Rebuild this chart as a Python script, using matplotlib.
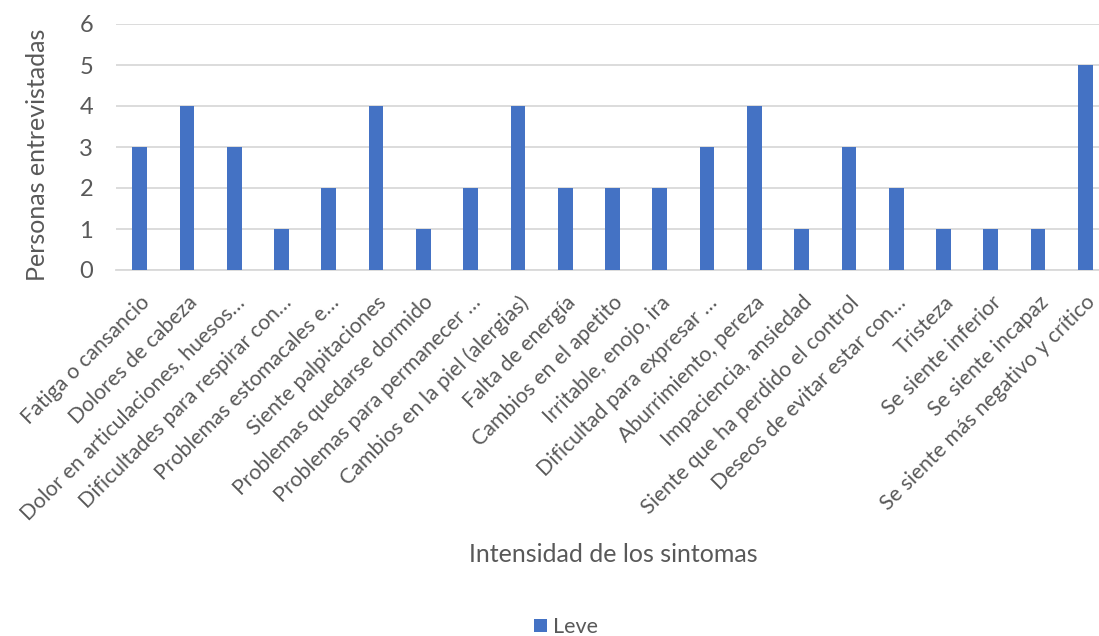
import matplotlib
matplotlib.use("Agg")
import matplotlib.pyplot as plt
from matplotlib.patches import Patch

categorias = [
    "Fatiga o cansancio",
    "Dolores de cabeza",
    "Dolor en articulaciones, huesos…",
    "Dificultades para respirar con…",
    "Problemas estomacales e…",
    "Siente palpitaciones",
    "Problemas quedarse dormido",
    "Problemas para permanecer …",
    "Cambios en la piel (alergias)",
    "Falta de energía",
    "Cambios en el apetito",
    "Irritable, enojo, ira",
    "Dificultad para expresar …",
    "Aburrimiento, pereza",
    "Impaciencia, ansiedad",
    "Siente que ha perdido el control",
    "Deseos de evitar estar con…",
    "Tristeza",
    "Se siente inferior",
    "Se siente incapaz",
    "Se siente más negativo y crítico",
]
leve = [3, 4, 3, 1, 2, 4, 1, 2, 4, 2, 2, 2, 3, 4, 1, 3, 2, 1, 1, 1, 5]
yticks = [0, 1, 2, 3, 4, 5, 6]

TEXT = "#595959"
BAR = "#4472C4"
GRID = "#D9D9D9"
plt.rcParams["font.family"] = ["Lato", "DejaVu Sans"]

fig = plt.figure(figsize=(10.99, 6.36), dpi=100)
ax = fig.add_axes([116 / 1099, 1 - 270 / 636, 993 / 1099, 246 / 636])

x = range(len(categorias))
ax.bar(x, leve, width=0.31, color=BAR, zorder=3)
ax.set_xlim(-0.5, len(categorias) - 0.5)
ax.set_ylim(0, 6)
ax.set_yticks(yticks)
ax.set_yticklabels([str(v) for v in yticks])
ax.yaxis.grid(True, color=GRID, linewidth=1.3, zorder=0)
ax.set_axisbelow(True)
for s in ["top", "right", "left"]:
    ax.spines[s].set_visible(False)
ax.spines["bottom"].set_color(GRID)
ax.spines["bottom"].set_linewidth(1.3)
ax.tick_params(axis="both", length=0, colors=TEXT)
ax.tick_params(axis="y", pad=16.5, labelsize=17)
ax.set_xticks(list(x))
ax.set_xticklabels(categorias, rotation=45, ha="right", rotation_mode="anchor",
                   fontsize=15.3, color=TEXT)
ax.tick_params(axis="x", pad=16)

fig.text(38 / 1099, 1 - 155 / 636, "Personas entrevistadas", rotation=90,
         ha="center", va="center", fontsize=18, color=TEXT)
fig.text(613 / 1099, 1 - 555 / 636, "Intensidad de los sintomas",
         ha="center", va="center", fontsize=18, color=TEXT)

fig.legend(handles=[Patch(facecolor=BAR, label="Leve")], loc="center",
           bbox_to_anchor=(566 / 1099, 1 - 627 / 636), frameon=False,
           fontsize=15.5, labelcolor=TEXT, handlelength=0.6, handleheight=0.6,
           handletextpad=0.3)

fig.savefig("out.png", dpi=100)
